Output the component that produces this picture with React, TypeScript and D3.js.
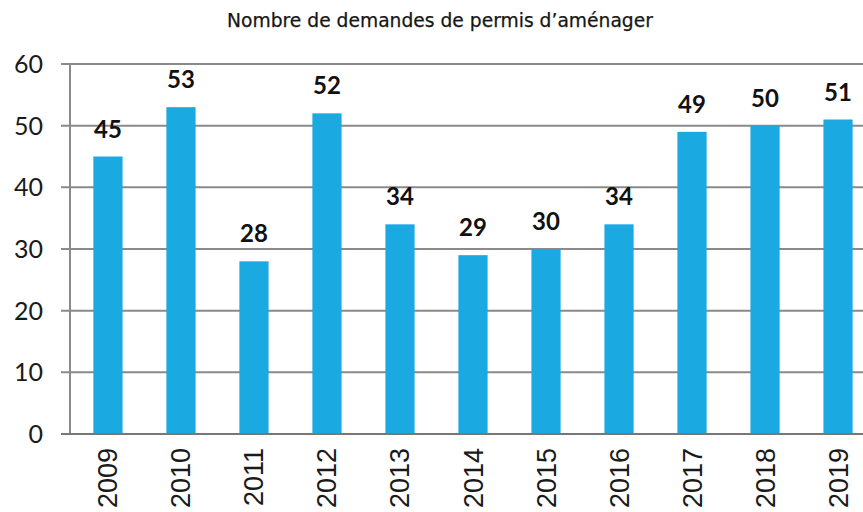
import React from "react";
import * as d3 from "d3";

const years = ["2009", "2010", "2011", "2012", "2013", "2014", "2015", "2016", "2017", "2018", "2019"];
const demandes = [45, 53, 28, 52, 34, 29, 30, 34, 49, 50, 51];
const yTicks = [0, 10, 20, 30, 40, 50, 60];
const title = "Nombre de demandes de permis d\u2019aménager";

const W = 863;
const H = 512;
const axisX = 70;
const plotTop = 64;
const plotBottom = 434;

export default function App() {
  const x = d3
    .scaleBand<string>()
    .domain(years)
    .range([axisX, 876])
    .paddingInner(0.6)
    .paddingOuter(0.32);
  const y = d3.scaleLinear().domain([0, 60]).range([plotBottom, plotTop]);
  const grid = "#8a8a8a";

  return (
    <svg
      width={W}
      height={H}
      style={{ position: "absolute", left: 0, top: 0, background: "#fff" }}
    >
      <text
        x={440}
        y={27}
        textAnchor="middle"
        fontFamily="DejaVu Sans, sans-serif"
        fontSize={18.7}
        fill="#161616"
        stroke="#161616"
        strokeWidth={0.25}
      >
        {title}
      </text>
      {yTicks.map((t) => (
        <g key={t}>
          <line x1={61} x2={W} y1={y(t)} y2={y(t)} stroke={grid} strokeWidth={2} />
          <text
            x={43}
            y={y(t)}
            dy="0.36em"
            textAnchor="end"
            fontFamily="Lato, sans-serif"
            fontSize={25}
            fill="#1a1a1a"
          >
            {t}
          </text>
        </g>
      ))}
      {years.map((yr, i) => (
        <g key={yr}>
          <rect
            x={x(yr)}
            y={y(demandes[i])}
            width={x.bandwidth()}
            height={plotBottom - y(demandes[i])}
            fill="#1ba9e1"
          />
          <text
            x={(x(yr) as number) + x.bandwidth() / 2}
            y={y(demandes[i]) - 19}
            textAnchor="middle"
            fontFamily="Lato, sans-serif"
            fontWeight="bold"
            fontSize={24}
            fill="#111"
          >
            {demandes[i]}
          </text>
          <text
            transform={`translate(${(x(yr) as number) + x.bandwidth() / 2 + 9.5},448) rotate(-90)`}
            textAnchor="end"
            fontFamily="Liberation Sans, Arial, sans-serif"
            fontSize={27}
            fill="#1a1a1a"
          >
            {yr}
          </text>
        </g>
      ))}
      <line x1={axisX} x2={axisX} y1={plotTop} y2={plotBottom} stroke={grid} strokeWidth={2} />
      <line x1={61} x2={W} y1={plotBottom} y2={plotBottom} stroke="#777" strokeWidth={2} />
    </svg>
  );
}
